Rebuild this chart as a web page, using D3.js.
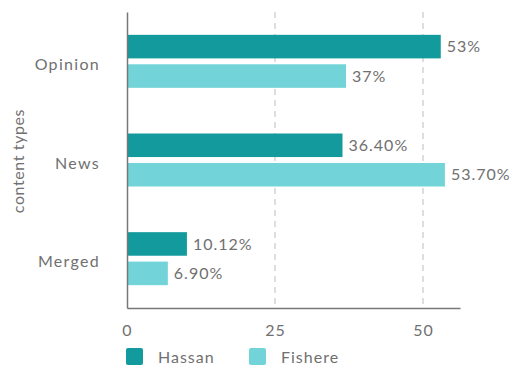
<!DOCTYPE html>
<html><head><meta charset="utf-8">
<script src="https://cdn.jsdelivr.net/npm/d3@7"></script>
<style>body{margin:0;background:#fff;} svg{display:block;}</style>
</head><body>
<svg id="c" width="511" height="369"></svg>
<script>
const categories = ["Opinion", "News", "Merged"];
const seriesNames = ["Hassan", "Fishere"];
const hassan = [53, 36.40, 10.12];
const fishere = [37, 53.70, 6.90];
const hassanLabels = ["53%", "36.40%", "10.12%"];
const fishereLabels = ["37%", "53.70%", "6.90%"];
const xTicks = [0, 25, 50];
const colors = ["#139a9c", "#72d4d8"];

const svg = d3.select("#c");
const font = "Lato, 'Open Sans', sans-serif";
const textColor = "#707070";
const ls = "1px";
const fs = 16;

const x = d3.scaleLinear().domain([0, 56.25]).range([127, 460]);
const y = d3.scaleBand().domain(categories).range([12, 308]).paddingInner(0).paddingOuter(0);
const inner = d3.scaleBand().domain(seriesNames).range([0, 53]).paddingInner(0.2);
const offset = (y.bandwidth() - 53) / 2;

// dashed gridlines
svg.append("g").selectAll("line").data(xTicks.filter(d => d > 0)).join("line")
  .attr("x1", d => x(d)).attr("x2", d => x(d))
  .attr("y1", 12).attr("y2", 308)
  .attr("stroke", "#c8c8c8").attr("stroke-width", 1.2).attr("stroke-dasharray", "6,5");

const data = categories.map((c, i) => ({c, vals: [
  {s: "Hassan", v: hassan[i], l: hassanLabels[i]},
  {s: "Fishere", v: fishere[i], l: fishereLabels[i]}
]}));

const g = svg.append("g").selectAll("g").data(data).join("g")
  .attr("transform", d => `translate(0,${y(d.c) + offset})`);
g.selectAll("rect").data(d => d.vals).join("rect")
  .attr("x", x(0)).attr("y", d => inner(d.s))
  .attr("width", d => x(d.v) - x(0)).attr("height", inner.bandwidth())
  .attr("fill", (d, i) => colors[i]);
g.selectAll("text").data(d => d.vals).join("text")
  .attr("x", d => x(d.v) + 6).attr("y", d => inner(d.s) + inner.bandwidth() / 2)
  .attr("dy", "0.35em").attr("font-family", font).attr("font-size", fs)
  .attr("letter-spacing", ls)
  .attr("fill", textColor).text(d => d.l);

// axes
const xAxis = svg.append("g").attr("transform", "translate(0,308)")
  .call(d3.axisBottom(x).tickValues(xTicks).tickSize(0).tickPadding(17));
xAxis.select(".domain").attr("stroke", "#777").attr("stroke-width", 1.5);
xAxis.selectAll("text").attr("font-family", font).attr("font-size", fs)
  .attr("letter-spacing", ls).attr("fill", textColor);

const yAxis = svg.append("g").attr("transform", "translate(127,0)")
  .call(d3.axisLeft(y).tickSize(0).tickPadding(27));
yAxis.select(".domain").attr("stroke", "#777").attr("stroke-width", 1.5);
yAxis.selectAll("text").attr("font-family", font).attr("font-size", fs)
  .attr("letter-spacing", "1.3px").attr("dy", "0.55em").attr("fill", textColor);

svg.append("text").attr("transform", "translate(24,161) rotate(-90)")
  .attr("text-anchor", "middle").attr("font-family", font).attr("font-size", 16)
  .attr("letter-spacing", "0.6px")
  .attr("fill", textColor).text("content types");

// legend
const legX = [126, 249];
const lg = svg.append("g").selectAll("g").data(seriesNames).join("g")
  .attr("transform", (d, i) => `translate(${legX[i]},348)`);
lg.append("rect").attr("width", 17).attr("height", 17).attr("rx", 2)
  .attr("fill", (d, i) => colors[i]);
lg.append("text").attr("x", 32).attr("y", 9).attr("dy", "0.35em")
  .attr("font-family", font).attr("font-size", fs).attr("letter-spacing", ls)
  .attr("fill", textColor).text(d => d);
</script>
</body></html>
